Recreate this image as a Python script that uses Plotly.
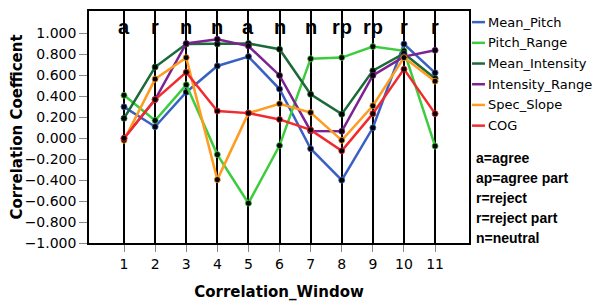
import plotly.graph_objects as go

windows = list(range(1, 12))
window_labels = ["a", "r", "n", "n", "a", "n", "n", "rp", "rp", "r", "r"]

mean_pitch = [0.30, 0.11, 0.44, 0.69, 0.78, 0.47, -0.10, -0.40, 0.10, 0.90, 0.625]
pitch_range = [0.41, 0.17, 0.51, -0.156, -0.62, -0.07, 0.76, 0.77, 0.875, 0.835, -0.075]
mean_intensity = [0.19, 0.68, 0.90, 0.90, 0.905, 0.85, 0.42, 0.23, 0.645, 0.81, 0.57]
intensity_range = [0.0, 0.37, 0.905, 0.945, 0.88, 0.60, 0.07, 0.067, 0.60, 0.78, 0.84]
spec_slope = [-0.02, 0.565, 0.77, -0.395, 0.24, 0.33, 0.245, -0.02, 0.31, 0.77, 0.545]
cog = [0.0, 0.37, 0.63, 0.26, 0.24, 0.18, 0.08, -0.12, 0.235, 0.66, 0.235]

series_names = ["Mean_Pitch", "Pitch_Range", "Mean_Intensity", "Intensity_Range", "Spec_Slope", "COG"]
series_values = [mean_pitch, pitch_range, mean_intensity, intensity_range, spec_slope, cog]
series_colors = ["#3b60c4", "#3dcc3d", "#1c6a38", "#7b2390", "#ff9b1f", "#f22a2e"]

notes = ["a=agree", "ap=agree part", "r=reject", "r=reject part", "n=neutral"]

y_ticks = [-1.0, -0.8, -0.6, -0.4, -0.2, 0.0, 0.2, 0.4, 0.6, 0.8, 1.0]
y_tick_text = ["\u22121.000", "\u22120.800", "\u22120.600", "\u22120.400", "\u22120.200",
               "0.000", "0.200", "0.400", "0.600", "0.800", "1.000"]

fig = go.Figure()
for name, vals, col in zip(series_names, series_values, series_colors):
    fig.add_trace(go.Scatter(
        x=windows, y=vals, name=name, mode="lines+markers",
        line=dict(color=col, width=2.5),
        marker=dict(color="black", size=6, line=dict(color=col, width=0.8)),
        showlegend=False,
    ))

# window labels at top
for w, lab in zip(windows, window_labels):
    fig.add_annotation(x=w, y=1.065, text="<b>" + lab + "</b>", showarrow=False, xref="x", yref="y",
                       font=dict(family="Liberation Sans", size=20, color="black"),
                       xanchor="center", yanchor="middle")

# manual legend
leg_top = 0.952
leg_step = 20.7 / 232
for i, (name, col) in enumerate(zip(series_names, series_colors)):
    yy = leg_top - i * leg_step
    fig.add_shape(type="line", xref="paper", yref="paper",
                  x0=1.008, x1=1.042, y0=yy, y1=yy,
                  line=dict(color=col, width=2.5))
    fig.add_annotation(xref="paper", yref="paper", x=1.045, y=yy, text=name,
                       showarrow=False, xanchor="left", yanchor="middle",
                       font=dict(family="DejaVu Sans", size=13, color="black"))

for i, t in enumerate(notes):
    ypx = 158 + i * 20
    yy = (243 - ypx) / 232
    fig.add_annotation(xref="paper", yref="paper", x=1.012, y=yy, text="<b>" + t + "</b>",
                       showarrow=False, xanchor="left", yanchor="middle",
                       font=dict(family="Liberation Sans", size=14, color="black"))

# page body has an 8px default margin, so margins are offset to place the plot area
fig.update_layout(
    width=611, height=302,
    margin=dict(l=81, r=150, t=3, b=67),
    paper_bgcolor="white", plot_bgcolor="white",
    font=dict(family="DejaVu Sans", color="black"),
)
fig.update_xaxes(
    range=[-0.125, 12.09], tickvals=windows, ticktext=[str(w) for w in windows],
    automargin=False,
    showgrid=True, gridcolor="black", gridwidth=1.5,
    showline=True, linecolor="black", linewidth=1.5, mirror=True,
    ticks="outside", ticklen=7, tickcolor="#888888", tickwidth=1,
    tickfont=dict(family="DejaVu Sans", size=14, color="black"),
    zeroline=False,
    title=dict(text="<b>Correlation_Window</b>", font=dict(family="DejaVu Sans", size=15, color="black"), standoff=16),
)
fig.update_yaxes(
    range=[-1.0, 1.215], tickvals=y_ticks, ticktext=y_tick_text,
    automargin=False,
    showgrid=False, zeroline=False,
    showline=True, linecolor="black", linewidth=1.5, mirror=True,
    ticks="outside", ticklen=8, tickcolor="#888888", tickwidth=1,
    tickfont=dict(family="DejaVu Sans", size=14, color="black"),
    title=dict(text="<b>Correlation Coefficent</b>", font=dict(family="DejaVu Sans", size=15, color="black"), standoff=14),
)

fig.write_html("out.html")
